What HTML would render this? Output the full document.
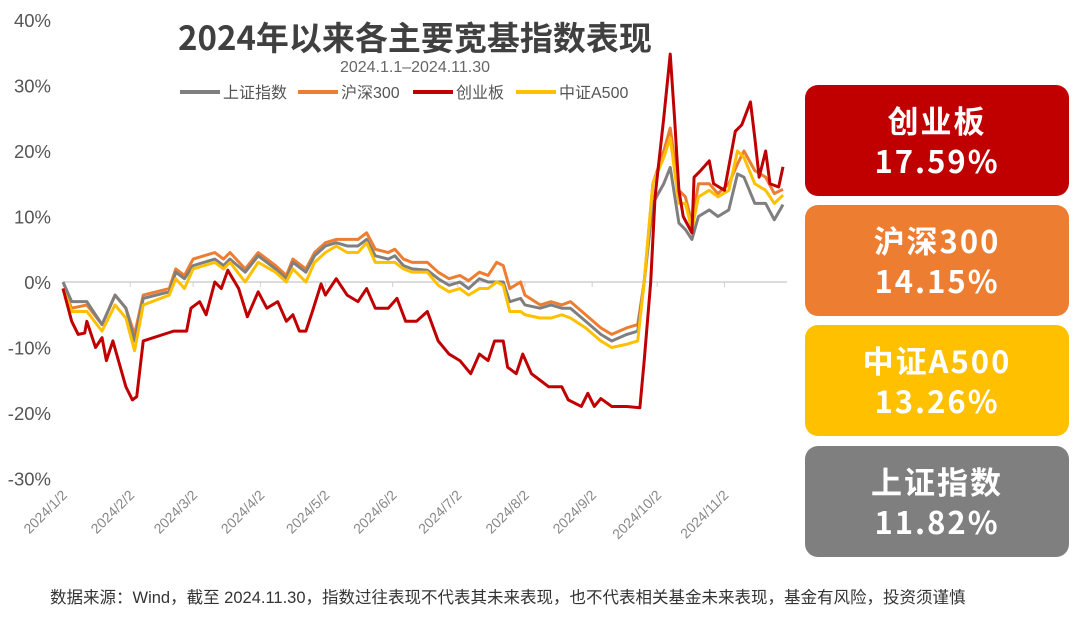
<!DOCTYPE html>
<html><head><meta charset="utf-8">
<style>
body{margin:0;background:#fff;width:1080px;height:624px;overflow:hidden;font-family:"Liberation Sans","Noto Sans CJK SC",sans-serif;}
.box{position:absolute;left:805px;width:264px;height:111px;border-radius:13px;color:#fff;font-weight:bold;font-size:31px;text-align:center;line-height:40px;padding-top:15px;box-sizing:border-box;letter-spacing:2px;font-family:"Noto Sans CJK SC","WenQuanYi Zen Hei",sans-serif;}
</style></head><body>
<svg id="chart" width="800" height="560" style="position:absolute;left:0;top:0" font-family="Liberation Sans, Noto Sans CJK SC, sans-serif"></svg>
<div class="box" style="top:85px;background:#c00000">创业板<br>17.59%</div>
<div class="box" style="top:205px;background:#ed7d31">沪深300<br>14.15%</div>
<div class="box" style="top:325px;background:#ffc000">中证A500<br>13.26%</div>
<div class="box" style="top:446px;background:#7f7f7f">上证指数<br>11.82%</div>
<div style="position:absolute;left:50px;top:584px;font-size:16.5px;color:#333;font-family:'Liberation Sans','Noto Sans CJK SC',sans-serif">数据来源：Wind，截至 2024.11.30，指数过往表现不代表其未来表现，也不代表相关基金未来表现，基金有风险，投资须谨慎</div>
<script>
const yTicks=[40,30,20,10,0,-10,-20,-30];
const monthLabels=["2024/1/2","2024/2/2","2024/3/2","2024/4/2","2024/5/2","2024/6/2","2024/7/2","2024/8/2","2024/9/2","2024/10/2","2024/11/2"];
const monthDays=[2,33,62,93,123,154,184,215,246,276,307];
const days=[2,6,13,20,26,31,35,39,51,54,58,62,72,76,79,86,92,100,105,108,114,118,123,128,133,138,142,146,152,155,159,163,170,175,180,185,189,194,198,202,205,208,213,215,222,227,232,236,243,250,255,262,267,270,274,279,282,286,289,292,295,300,304,309,313,316,321,326,330,334];
const hs300=[-1,-4,-3.5,-6.5,-2,-4,-8,-2,-1,2,1,3.5,4.5,3.5,4.5,2,4.5,2.5,1,3.5,2,4.5,6,6.5,6.5,6.5,7.5,5,4.5,5,3.5,3,3,1.5,0.5,1,0.2,1.5,1,3,2.5,-1,0,-2,-3.5,-3,-3.5,-3,-5,-7,-8,-7,-6.5,0,15,20,23.5,14,13,9,15,15,13.5,15,18,20,17,16,13.5,14.15];
const sse=[0,-3,-3,-6.5,-2,-4,-9,-2.5,-1.5,1.5,0.5,2.5,3.5,2.5,3.5,1.5,4,2,0.5,3,1.5,4,5.5,6,5.5,5.5,6.5,4,3.5,4,2.5,2,1.8,0.5,-0.5,0,-1,0.5,0,0,0,-3,-2.5,-3.5,-4,-3.5,-4,-4,-6,-8,-9,-8,-7.5,0,12,15,17.5,9,8,6.5,10,11,10,11,16.5,16,12,12,9.5,11.82];
const a500=[-1,-4.5,-4.5,-7.5,-3.5,-5.5,-10.5,-3.5,-2,0.5,-1,2,3,2,3,0,3,1.5,0,2,0,3,4.5,5.5,4.5,4.5,6,3,3,3,2,1.5,1.5,-0.5,-1.5,-1,-2,-1,-1,0,-0.5,-4.5,-4.5,-5,-5.5,-5.5,-5,-5.5,-7,-9,-10,-9.5,-9,0,15,19,22,12,12,8,13,14,13,14,20,19,15,14,12,13.26];
const cybDays=[2,6,9,12,13,17,20,22,25,31,34,36,39,53,59,61,65,68,72,75,78,83,87,92,96,101,105,108,111,114,117,121,123,128,133,138,142,146,152,156,160,165,170,175,180,185,190,194,198,201,205,207,211,214,218,222,226,232,235,241,244,247,250,255,262,268,270,273,275,279,282,284,286,288,292,293,296,300,302,307,312,315,319,321,323,326,328,332,334];
const cyb=[-1,-6,-8,-7.8,-6,-10,-8.5,-12,-9,-16,-18,-17.5,-9,-7.5,-7.5,-4,-3,-5,0,-1,1.8,-1,-5.3,-1.5,-4,-3,-6,-5,-7.5,-7.5,-4.5,-0.3,-2,0.5,-2,-3,-1,-4,-4,-2.5,-6,-6,-4.5,-9,-11,-12,-14,-11,-12,-9,-9,-13,-14,-11,-14,-15,-16,-16,-18,-19,-17,-19,-17.8,-19,-19,-19.2,-12,0,13,25,34.8,25,14,10,7.5,16,17,18.5,15,14,23,24,27.5,22,16,20,15,14.5,17.59];
const NS="http://www.w3.org/2000/svg";
const svg=document.getElementById('chart');
const X=d=>63+(d-2)*720/332;
const Y=v=>282-v*6.55;
function mk(tag,attrs,txt){const e=document.createElementNS(NS,tag);for(const k in attrs)e.setAttribute(k,attrs[k]);if(txt!==undefined)e.textContent=txt;svg.appendChild(e);return e;}
yTicks.forEach(v=>{const t=mk('text',{x:51,y:Y(v)+7,'text-anchor':'end','font-size':18.5,fill:'#555'},v+'%');

});
const ax=mk('line',{x1:63,x2:787,y1:Y(0),y2:Y(0),stroke:'#d0d0d0','stroke-width':1.5});


monthDays.forEach((d,i)=>{const tk=mk('line',{x1:X(d),x2:X(d),y1:Y(0),y2:Y(0)+5,stroke:'#d0d0d0'});


const t=mk('text',{x:X(d)+5,y:496,'text-anchor':'end','font-size':14,fill:'#888',transform:`rotate(-45 ${X(d)+5} 496)`},monthLabels[i]);

});
function line(ds,vs,col,name){const p=mk('polyline',{points:ds.map((d,i)=>X(d)+','+Y(vs[i])).join(' '),fill:'none',stroke:col,'stroke-width':3,'stroke-linejoin':'round'});

}
line(days,hs300,'#ed7d31','series-csi300');
line(days,sse,'#7f7f7f','series-sse');
line(days,a500,'#ffc000','series-a500');
line(cybDays,cyb,'#c00000','series-chinext');
const ti=mk('text',{x:415,y:50,'text-anchor':'middle','font-size':33,'font-weight':'bold',fill:'#404040','font-family':'Noto Sans CJK SC, sans-serif'},'2024年以来各主要宽基指数表现');


const st=mk('text',{x:415,y:72,'text-anchor':'middle','font-size':16,fill:'#666'},'2024.1.1–2024.11.30');


const leg=[['上证指数','#7f7f7f',180],['沪深300','#ed7d31',298],['创业板','#c00000',413],['中证A500','#ffc000',516]];
leg.forEach(l=>{const g=mk('line',{x1:l[2],x2:l[2]+40,y1:92,y2:92,stroke:l[1],'stroke-width':4});


const t=mk('text',{x:l[2]+43,y:98,'font-size':16,fill:'#555'},l[0]);

});
</script>
</body></html>
